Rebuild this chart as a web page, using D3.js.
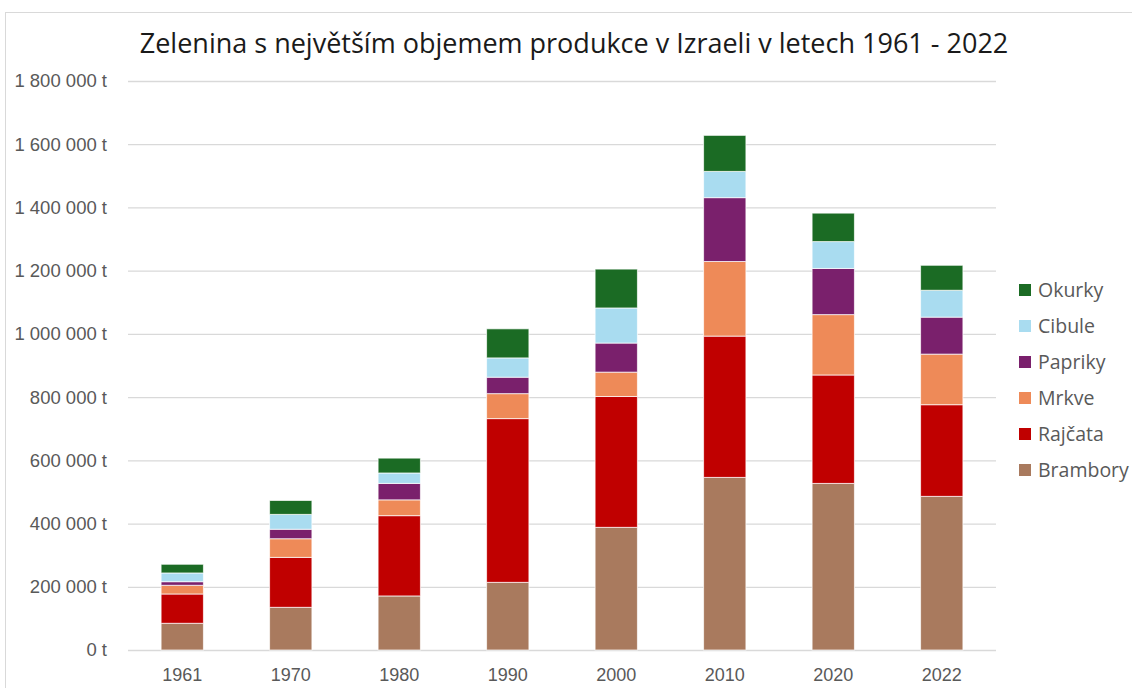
<!DOCTYPE html>
<html>
<head>
<meta charset="utf-8">
<script src="https://cdn.jsdelivr.net/npm/d3@7"></script>
<style>
  body { margin: 0; background: #fff; }
  svg { display: block; font-family: "Open Sans", "Noto Sans", sans-serif; }
</style>
</head>
<body>
<div id="chart"></div>
<script>
// roky a serie (t)
const years = ['1961', '1970', '1980', '1990', '2000', '2010', '2020', '2022'];
const seriesNames = ['Brambory', 'Rajčata', 'Mrkve', 'Papriky', 'Cibule', 'Okurky'];
const brambory = [84500, 135000, 171000, 214000, 388000, 546000, 527000, 486000];
const rajcata = [92700, 158000, 254000, 518000, 414000, 447000, 343000, 290000];
const mrkve = [27500, 59000, 50000, 79000, 77000, 236000, 191000, 160000];
const papriky = [11400, 30000, 52000, 52000, 92000, 202000, 146000, 117000];
const cibule = [27600, 47000, 33000, 61000, 111000, 83000, 85000, 85000];
const okurky = [27500, 44000, 47000, 92000, 123000, 114000, 90000, 79000];
const yTicks = [0, 200000, 400000, 600000, 800000, 1000000, 1200000, 1400000, 1600000, 1800000];
const colors = ['#A97A5E', '#C00000', '#EE8A58', '#7A206C', '#A9DCF0', '#1B6B24'];

const values = [brambory, rajcata, mrkve, papriky, cibule, okurky];
const table = years.map((y, i) => {
    const row = { year: y };
    seriesNames.forEach((s, k) => { row[s] = values[k][i]; });
    return row;
});

const width = 1132, height = 688;
const plot = { left: 128, right: 996, top: 81, bottom: 650 };

const svg = d3.select('#chart')
    .append('svg')
    .attr('width', width)
    .attr('height', height);

// ramecek grafu
svg.append('rect')
    .attr('x', 5.5).attr('y', 12.5)
    .attr('width', width + 20).attr('height', height + 20)
    .attr('fill', 'none')
    .attr('stroke', '#d9d9d9');

// titulek
svg.append('text')
    .attr('x', 574).attr('y', 53)
    .attr('text-anchor', 'middle')
    .attr('font-size', 27)
    .attr('fill', '#1a1a1a')
    .text('Zelenina s největším objemem produkce v Izraeli v letech 1961 - 2022');

const x = d3.scaleBand()
    .domain(years)
    .range([plot.left, plot.right])
    .paddingInner(0.61)
    .paddingOuter(0.305);

const y = d3.scaleLinear()
    .domain([0, 1800000])
    .range([plot.bottom, plot.top]);

const fmt = v => d3.format(',')(v).replace(/,/g, ' ') + ' t';

// osa y s mrizkou
const yAxis = svg.append('g')
    .attr('transform', `translate(${plot.left},0)`)
    .call(d3.axisLeft(y).tickValues(yTicks).tickSize(-(plot.right - plot.left)).tickPadding(21).tickFormat(fmt));
yAxis.select('.domain').remove();
yAxis.selectAll('line').attr('stroke', '#d9d9d9').attr('stroke-width', 1.3);
yAxis.selectAll('text').attr('fill', '#595959').attr('font-size', 18.5);

// osa x
const xAxis = svg.append('g')
    .attr('transform', `translate(0,${plot.bottom})`)
    .call(d3.axisBottom(x).tickSize(0).tickPadding(18));
xAxis.select('.domain').remove();
xAxis.selectAll('text').attr('fill', '#595959').attr('font-size', 18);

// skladane sloupce
const stack = d3.stack().keys(seriesNames)(table);

svg.append('g')
    .selectAll('g')
    .data(stack)
    .join('g')
    .attr('fill', (d, i) => colors[i])
    .selectAll('rect')
    .data(d => d)
    .join('rect')
    .attr('x', d => x(d.data.year))
    .attr('y', d => y(d[1]))
    .attr('width', x.bandwidth())
    .attr('height', d => y(d[0]) - y(d[1]))
    .attr('stroke', '#ffffff')
    .attr('stroke-opacity', 0.7)
    .attr('stroke-width', 1);

// legenda (obracene poradi)
const legend = svg.append('g')
    .selectAll('g')
    .data(seriesNames.slice().reverse())
    .join('g')
    .attr('transform', (d, i) => `translate(1019,${290 + i * 36})`);

legend.append('rect')
    .attr('x', 0).attr('y', -6)
    .attr('width', 12).attr('height', 12)
    .attr('fill', d => colors[seriesNames.indexOf(d)]);

legend.append('text')
    .attr('x', 19).attr('y', 0)
    .attr('dy', '0.35em')
    .attr('font-size', 19.5)
    .attr('fill', '#595959')
    .text(d => d);
</script>
</body>
</html>
